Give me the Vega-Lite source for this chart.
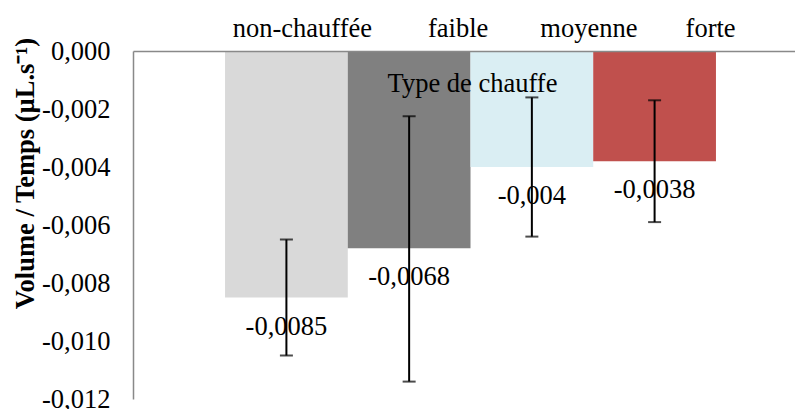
{
  "$schema": "https://vega.github.io/schema/vega-lite/v6.json",
  "autosize": "none",
  "width": 662,
  "height": 348,
  "padding": {"left": 133, "top": 51, "right": 0, "bottom": 10},
  "background": "white",
  "config": {"view": {"stroke": null}, "font": "'Liberation Serif', serif"},
  "data": {"values": [
    {"type": "non-chauffée", "value": -0.0085, "lo": -0.0065, "hi": -0.0105, "label": "-0,0085"},
    {"type": "faible", "value": -0.0068, "lo": -0.00225, "hi": -0.0114, "label": "-0,0068"},
    {"type": "moyenne", "value": -0.004, "lo": -0.0016, "hi": -0.0064, "label": "-0,004"},
    {"type": "forte", "value": -0.0038, "lo": -0.0017, "hi": -0.0059, "label": "-0,0038"}
  ]},
  "encoding": {
    "x": {
      "field": "type", "type": "nominal", "sort": null,
      "scale": {"paddingInner": 0, "paddingOuter": 0.697, "align": 0.538},
      "axis": {
        "orient": "top", "title": "Type de chauffe", "zindex": 1,
        "titleFont": "'Liberation Serif', serif", "titleFontSize": 26.5, "titleFontWeight": "normal", "titleColor": "black",
        "titleX": 339, "titleY": 40.5, "titleBaseline": "alphabetic", "titleAlign": "center", "titleAnchor": null,
        "labelFont": "'Liberation Serif', serif", "labelFontSize": 26.5, "labelColor": "black", "labelAngle": 0,
        "labelBaseline": "alphabetic", "labelPadding": 15, "ticks": false,
        "labelOffset": {"condition": [
          {"test": "datum.value === 'non-chauffée'", "value": 16},
          {"test": "datum.value === 'faible'", "value": 49},
          {"test": "datum.value === 'moyenne'", "value": 57}
        ], "value": 56},
        "domainColor": "#898989", "domainWidth": 1.5
      }
    }
  },
  "layer": [
    {
      "mark": {"type": "bar"},
      "encoding": {
        "y": {
          "field": "value", "type": "quantitative",
          "scale": {"domain": [-0.012, 0], "nice": false, "zero": true},
          "axis": {
            "title": "Volume / Temps (µL.s⁻¹)",
            "titleFont": "'Liberation Serif', serif", "titleFontSize": 26.5, "titleFontWeight": "bold", "titleColor": "black",
            "titleAngle": -90, "titleX": -100, "titleY": 122, "titleBaseline": "alphabetic", "titleAlign": "center",
            "values": [0, -0.002, -0.004, -0.006, -0.008, -0.01, -0.012],
            "labelExpr": "replace(replace(format(datum.value, '.3f'), '.', ','), '\u2212', '-')",
            "labelFont": "'Liberation Serif', serif", "labelFontSize": 26.5, "labelColor": "black",
            "labelPadding": 23, "ticks": false, "grid": false,
            "domainColor": "#898989", "domainWidth": 1.5
          }
        },
        "color": {
          "field": "type", "type": "nominal", "legend": null,
          "scale": {"domain": ["non-chauffée", "faible", "moyenne", "forte"], "range": ["#D9D9D9", "#808080", "#DAEEF3", "#C0504D"]}
        }
      }
    },
    {
      "mark": {"type": "text", "font": "'Liberation Serif', serif", "fontSize": 26.5, "color": "black", "baseline": "middle", "align": "center", "dy": 29},
      "encoding": {
        "y": {"field": "value", "type": "quantitative"},
        "text": {"field": "label"}
      }
    },
    {
      "mark": {"type": "rule", "color": "black", "strokeWidth": 2},
      "encoding": {
        "y": {"field": "lo", "type": "quantitative"},
        "y2": {"field": "hi"}
      }
    },
    {
      "mark": {"type": "tick", "color": "black", "thickness": 2, "size": 13, "orient": "horizontal"},
      "encoding": {"y": {"field": "lo", "type": "quantitative"}}
    },
    {
      "mark": {"type": "tick", "color": "black", "thickness": 2, "size": 13, "orient": "horizontal"},
      "encoding": {"y": {"field": "hi", "type": "quantitative"}}
    }
  ]
}
